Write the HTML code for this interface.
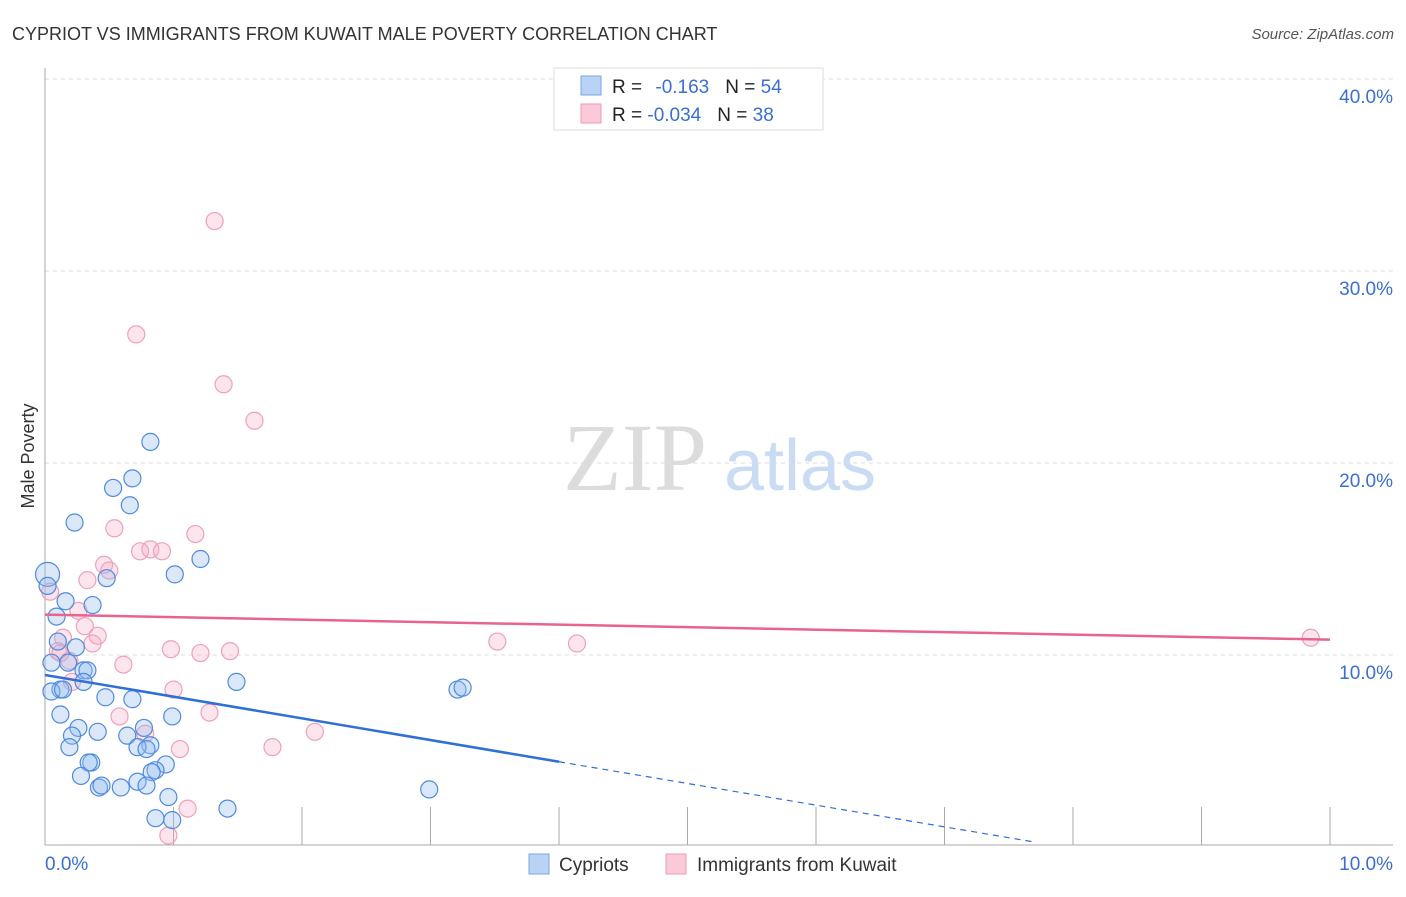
<!DOCTYPE html>
<html><head><meta charset="utf-8"><style>
body{margin:0;background:#fff;font-family:"Liberation Sans",sans-serif}
</style></head><body>
<svg width="1406" height="892" xmlns="http://www.w3.org/2000/svg" id="chart" font-family="Liberation Sans, sans-serif">
<text x="12" y="40" font-size="18" fill="#333">CYPRIOT VS IMMIGRANTS FROM KUWAIT MALE POVERTY CORRELATION CHART</text>
<text x="1394" y="39" font-size="15" fill="#555" font-style="italic" text-anchor="end">Source: ZipAtlas.com</text>
<text x="34" y="456" font-size="18" fill="#333" text-anchor="middle" transform="rotate(-90 34 456)">Male Poverty</text>
<g>
<text x="635" y="490" font-size="96" fill="#dcdcdc" text-anchor="middle" style="font-family:'Liberation Serif',serif">ZIP</text>
<text x="800" y="490" font-size="72" fill="#c9dcf3" text-anchor="middle">atlas</text>
</g>
<g id="grid"></g><g id="axes"></g><g id="pts"></g><g id="lines"></g>
<g>
<rect x="554" y="68" width="269" height="62" fill="#fff" stroke="#ddd"/>
<rect x="581" y="76" width="20" height="19" fill="#b9d3f5" stroke="#7aa6e6"/>
<rect x="581" y="104" width="20" height="19" fill="#fbc9d8" stroke="#ef9ab4"/>
<text x="612" y="93" font-size="19" fill="#222">R = <tspan fill="#3a6fd0" dx="8">-0.163</tspan><tspan fill="#222" dx="16">N = </tspan><tspan fill="#3a6fd0">54</tspan></text>
<text x="612" y="121" font-size="19" fill="#222">R = <tspan fill="#3a6fd0">-0.034</tspan><tspan fill="#222" dx="16">N = </tspan><tspan fill="#3a6fd0">38</tspan></text>
</g>
<g>
<rect x="529" y="854" width="20" height="20" fill="#b9d3f5" stroke="#7aa6e6"/>
<text x="559" y="871" font-size="19" fill="#333">Cypriots</text>
<rect x="666" y="854" width="20" height="20" fill="#fbc9d8" stroke="#ef9ab4"/>
<text x="697" y="871" font-size="19" fill="#333">Immigrants from Kuwait</text>
</g>
</svg>
<script>
const yTicks=[10,20,30,40];
const yTickLabels=["10.0%","20.0%","30.0%","40.0%"];
const xTicks=[0,1,2,3,4,5,6,7,8,9,10];
const cypX=[0.82,0.68,0.53,0.66,0.23,1.21,1.01,0.02,0.02,0.48,0.37,0.16,0.09,0.10,0.24,0.18,0.05,0.30,0.33,0.30,1.49,0.12,0.05,0.14,0.47,0.68,0.12,0.99,3.21,3.25,0.77,0.26,0.41,0.64,0.21,0.82,0.72,0.19,0.79,0.36,0.34,0.94,0.28,0.86,0.83,0.72,0.79,0.59,0.42,0.44,2.99,0.96,1.42,0.86,0.99];
const cypY=[21.1,19.2,18.7,17.8,16.9,15.0,14.2,14.2,13.6,14.0,12.6,12.8,12.0,10.7,10.4,9.6,9.6,9.2,9.2,8.6,8.6,8.2,8.1,8.2,7.8,7.7,6.9,6.8,8.2,8.3,6.2,6.2,6.0,5.8,5.8,5.3,5.2,5.2,5.1,4.4,4.4,4.3,3.7,4.0,3.9,3.4,3.2,3.1,3.1,3.2,3.0,2.6,2.0,1.5,1.4];
const kuwX=[1.32,0.71,1.39,1.63,0.54,1.17,0.74,0.82,0.91,0.46,0.50,0.33,0.26,0.04,0.31,0.41,0.14,0.37,0.10,0.19,0.61,0.98,1.21,1.44,3.52,4.14,9.85,1.00,0.21,1.28,0.58,0.78,1.05,1.77,2.10,1.11,0.96,0.12];
const kuwY=[32.6,26.7,24.1,22.2,16.6,16.3,15.4,15.5,15.4,14.7,14.4,13.9,12.3,13.3,11.5,11.0,10.9,10.6,10.2,9.7,9.5,10.3,10.1,10.2,10.7,10.6,10.9,8.2,8.6,7.0,6.8,5.9,5.1,5.2,6.0,2.0,0.6,10.1];
const cypTrend=[8.96,-1.13];
const kuwTrend=[12.1,-0.13];
const X=v=>45+v*128.5, Y=v=>847-v*19.2;
const NS="http://www.w3.org/2000/svg";
function mk(p,t,a){const e=document.createElementNS(NS,t);for(const k in a)e.setAttribute(k,a[k]);document.getElementById(p).appendChild(e);return e;}
yTicks.forEach((t,i)=>{
 const g=mk('grid','line',{x1:45,x2:1393,y1:Y(t),y2:Y(t),stroke:'#ddd','stroke-dasharray':'4,4'});
 
 
 const l=mk('axes','text',{x:1393,y:Y(t)+24,'font-size':19,fill:'#3a6fd0','text-anchor':'end'});l.textContent=yTickLabels[i];
 
 
});
const ax=mk('axes','line',{x1:45,x2:1393,y1:845,y2:845,stroke:'#aaa'});


const ay=mk('axes','line',{x1:45,x2:45,y1:68,y2:845,stroke:'#aaa'});


xTicks.forEach(t=>{if(t>0){const k=mk('axes','line',{x1:X(t),x2:X(t),y1:807,y2:845,stroke:'#aaa'});}});
let t0=mk('axes','text',{x:45,y:870,'font-size':19,fill:'#3a6fd0'});t0.textContent='0.0%';


let t1=mk('axes','text',{x:1393,y:870,'font-size':19,fill:'#3a6fd0','text-anchor':'end'});t1.textContent='10.0%';


kuwX.forEach((x,i)=>{const c=mk('pts','circle',{cx:X(x),cy:Y(kuwY[i]),r:8.5,fill:'rgba(248,170,195,0.3)',stroke:'#f0a0b8','stroke-width':1.2});
 
 });
cypX.forEach((x,i)=>{const c=mk('pts','circle',{cx:X(x),cy:Y(cypY[i]),r:(i==7?12:8.5),fill:'rgba(150,190,240,0.35)',stroke:'#4f8ae0','stroke-width':1.2});
 
 });
const f=(tr,x)=>tr[0]+tr[1]*x;
let a=mk('lines','line',{x1:X(0),y1:Y(f(kuwTrend,0)),x2:X(10),y2:Y(f(kuwTrend,10)),stroke:'#e8638f','stroke-width':2.5});


let b=mk('lines','line',{x1:X(0),y1:Y(f(cypTrend,0)),x2:X(4),y2:Y(f(cypTrend,4)),stroke:'#2f6fd6','stroke-width':2.5});


let d=mk('lines','line',{x1:X(4),y1:Y(f(cypTrend,4)),x2:X(7.7),y2:Y(f(cypTrend,7.7)),stroke:'#2f6fd6','stroke-width':1.2,'stroke-dasharray':'6,5'});


</script>
</body></html>
